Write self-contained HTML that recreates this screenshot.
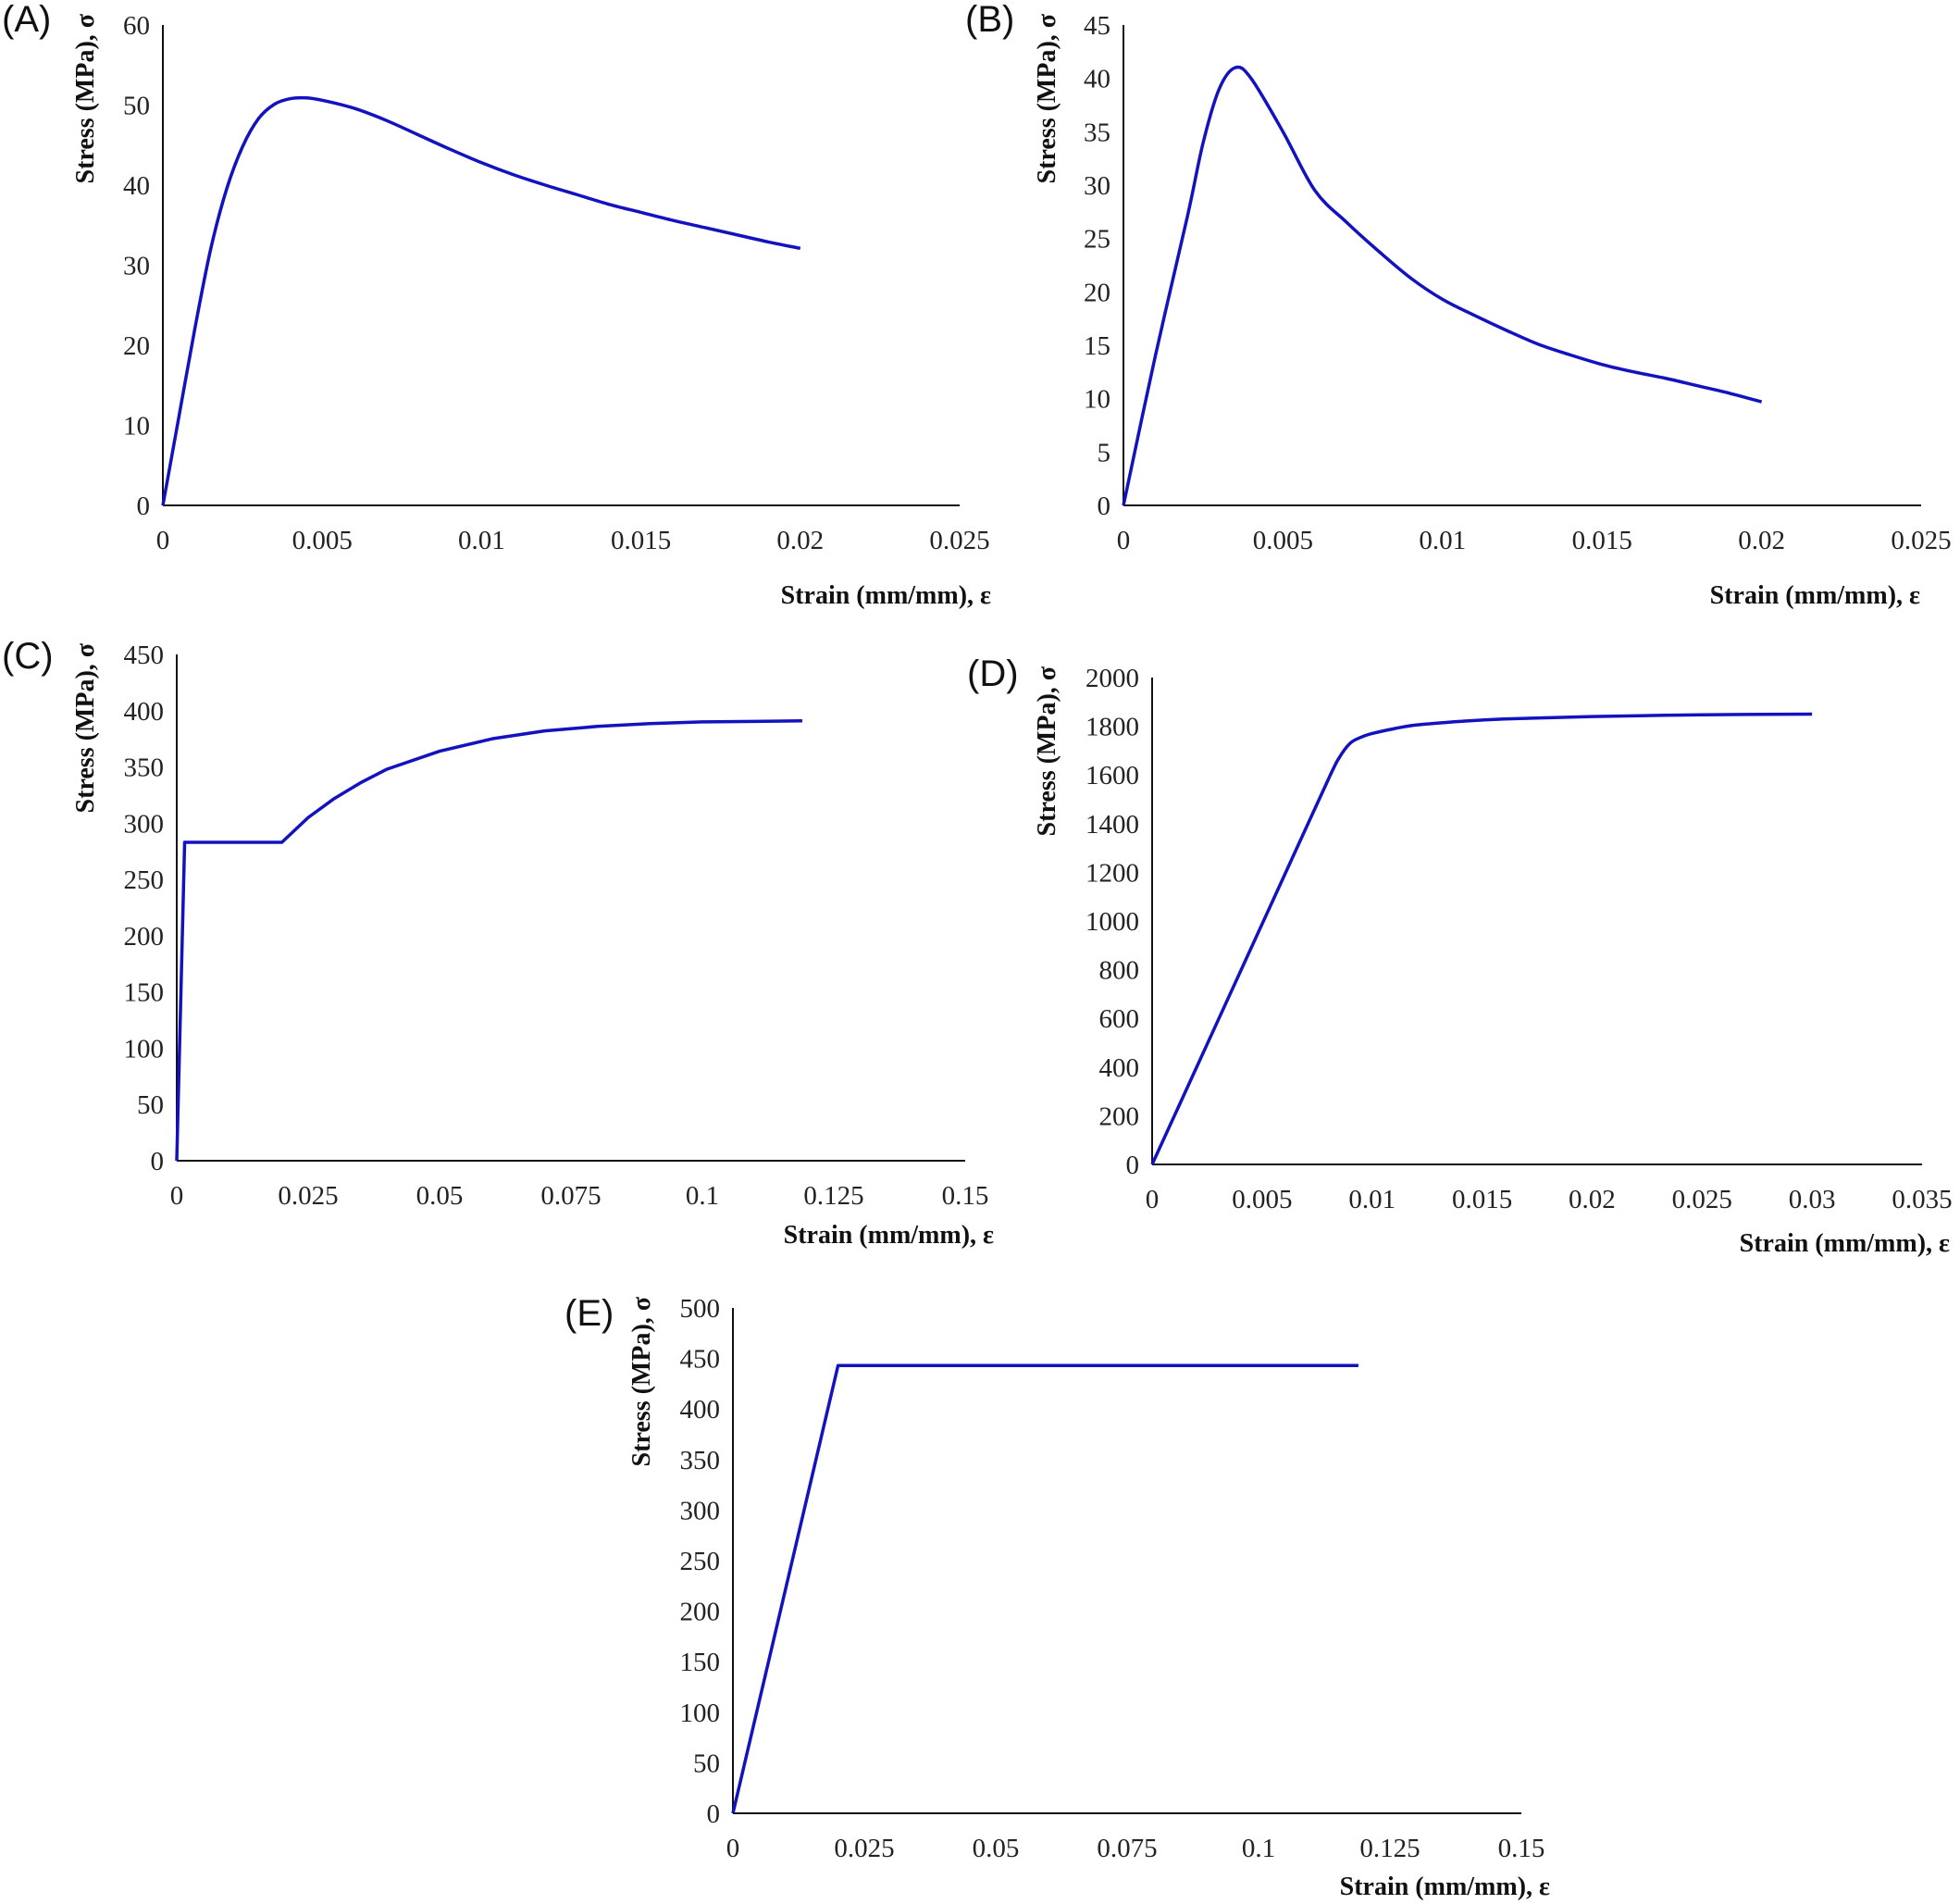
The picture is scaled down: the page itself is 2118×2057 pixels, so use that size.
<!DOCTYPE html>
<html><head><meta charset="utf-8"><style>
html,body{margin:0;padding:0;background:#fff;}
svg{display:block;}
.tick{font-family:"Liberation Serif",serif;font-size:29px;fill:#222;}
.title{font-family:"Liberation Serif",serif;font-size:28px;font-weight:bold;fill:#111;}
.letter{font-family:"Liberation Sans",sans-serif;font-size:40px;fill:#111;}
</style></head><body>
<svg id="fig" width="2118" height="2057" viewBox="0 0 2118 2057" xmlns="http://www.w3.org/2000/svg"></svg>
<script>
// Panel A data
const aStrain=[0,0.0005,0.001,0.0015,0.002,0.0025,0.003,0.0035,0.004,0.0045,0.005,0.006,0.007,0.008,0.009,0.01,0.011,0.012,0.013,0.014,0.015,0.016,0.017,0.018,0.019,0.02];
const aStress=[0,11,22,32,39.5,44.8,48.3,50.1,50.8,50.9,50.6,49.6,48.1,46.3,44.5,42.8,41.3,40,38.8,37.6,36.6,35.6,34.7,33.8,32.9,32.1];
const aXTicks=["0","0.005","0.01","0.015","0.02","0.025"];
const aYTicks=["0","10","20","30","40","50","60"];
// Panel B data
const bStrain=[0,0.001,0.002,0.0025,0.003,0.0035,0.004,0.005,0.006,0.007,0.008,0.009,0.01,0.011,0.012,0.013,0.014,0.015,0.016,0.017,0.018,0.019,0.02];
const bStress=[0,14,27,34,39,41,40,35,29.5,26.5,23.8,21.3,19.3,17.8,16.4,15.1,14.1,13.2,12.5,11.9,11.2,10.5,9.7];
const bXTicks=["0","0.005","0.01","0.015","0.02","0.025"];
const bYTicks=["0","5","10","15","20","25","30","35","40","45"];
// Panel C data
const cStrain=[0,0.0015,0.02,0.025,0.03,0.035,0.04,0.05,0.06,0.07,0.08,0.09,0.1,0.11,0.119];
const cStress=[0,283,283,305,322,336,348,364,375,382,386,388.5,390,390.5,391];
const cXTicks=["0","0.025","0.05","0.075","0.1","0.125","0.15"];
const cYTicks=["0","50","100","150","200","250","300","350","400","450"];
// Panel D data
const dStrain=[0,0.002,0.004,0.006,0.008,0.0085,0.009,0.0095,0.01,0.011,0.012,0.014,0.016,0.02,0.025,0.03];
const dStress=[0,395,790,1185,1580,1670,1730,1755,1770,1790,1805,1820,1830,1840,1847,1850];
const dXTicks=["0","0.005","0.01","0.015","0.02","0.025","0.03","0.035"];
const dYTicks=["0","200","400","600","800","1000","1200","1400","1600","1800","2000"];
// Panel E data
const eStrain=[0,0.02,0.119];
const eStress=[0,443,443];
const eXTicks=["0","0.025","0.05","0.075","0.1","0.125","0.15"];
const eYTicks=["0","50","100","150","200","250","300","350","400","450","500"];

const NS="http://www.w3.org/2000/svg";
const fig=document.getElementById('fig');
function mk(tag,attrs,parent){const e=document.createElementNS(NS,tag);for(const k in attrs)e.setAttribute(k,attrs[k]);parent.appendChild(e);return e;}

function panel(id,letter,box,xs,ys,xt,yt,smooth){
  const g=mk('g',{},fig);
  
  
  const xMax=parseFloat(xt[xt.length-1]), yMax=parseFloat(yt[yt.length-1]);
  const X=v=>box.x0+(box.x1-box.x0)*v/xMax;
  const Y=v=>box.y0-(box.y0-box.y1)*v/yMax;
  const ya=mk('line',{x1:X(0),y1:Y(0),x2:X(0),y2:Y(yMax),stroke:'#111','stroke-width':2},g);
  
  
  const xa=mk('line',{x1:X(0),y1:Y(0),x2:X(xMax),y2:Y(0),stroke:'#111','stroke-width':2},g);
  
  
  xt.forEach(t=>{const e=mk('text',{x:X(parseFloat(t)),y:Y(0)+47,'text-anchor':'middle',class:'tick'},g);e.textContent=t;
    
    });
  yt.forEach(t=>{const e=mk('text',{x:X(0)-14,y:Y(parseFloat(t))+10,'text-anchor':'end',class:'tick'},g);e.textContent=t;
    
    });
  const xtl=mk('text',{x:box.tx,y:box.ty,'text-anchor':'end',class:'title'},g);xtl.textContent='Strain (mm/mm), ε';
  
  
  const ytl=mk('text',{x:0,y:0,'text-anchor':'end',class:'title',transform:`translate(${box.yx},${box.y1-12}) rotate(-90)`},g);ytl.textContent='Stress (MPa), σ';
  
  
  const lt=mk('text',{x:box.lx,y:box.ly,class:'letter'},g);lt.textContent='('+letter+')';
  
  
  const P=xs.map((v,i)=>[X(v),Y(ys[i])]);
  let d='M'+P[0][0]+','+P[0][1];
  if(smooth){
    for(let i=0;i<P.length-1;i++){
      const p0=P[Math.max(0,i-1)],p1=P[i],p2=P[i+1],p3=P[Math.min(P.length-1,i+2)];
      const c1=[p1[0]+(p2[0]-p0[0])/6,p1[1]+(p2[1]-p0[1])/6];
      const c2=[p2[0]-(p3[0]-p1[0])/6,p2[1]-(p3[1]-p1[1])/6];
      d+=` C${c1[0]},${c1[1]} ${c2[0]},${c2[1]} ${p2[0]},${p2[1]}`;
    }
  } else { for(let i=1;i<P.length;i++) d+=' L'+P[i][0]+','+P[i][1]; }
  const ln=mk('path',{d:d,fill:'none',stroke:'#1212bf','stroke-width':3.5,'stroke-linejoin':'round'},g);
  
  
}
panel('a','A',{x0:176,x1:1037,y0:546,y1:27,tx:1071,ty:652,yx:101,lx:2,ly:34},aStrain,aStress,aXTicks,aYTicks,true);
panel('b','B',{x0:1214,x1:2076,y0:546,y1:27,tx:2075,ty:652,yx:1140,lx:1043,ly:34},bStrain,bStress,bXTicks,bYTicks,true);
panel('c','C',{x0:191,x1:1043,y0:1254,y1:707,tx:1074,ty:1343,yx:101,lx:2,ly:722},cStrain,cStress,cXTicks,cYTicks,false);
panel('d','D',{x0:1245,x1:2077,y0:1258,y1:732,tx:2107,ty:1352,yx:1140,lx:1045,ly:741},dStrain,dStress,dXTicks,dYTicks,true);
panel('e','E',{x0:792,x1:1644,y0:1959,y1:1413,tx:1675,ty:2047,yx:702,lx:610,ly:1432},eStrain,eStress,eXTicks,eYTicks,false);
</script>
</body></html>
